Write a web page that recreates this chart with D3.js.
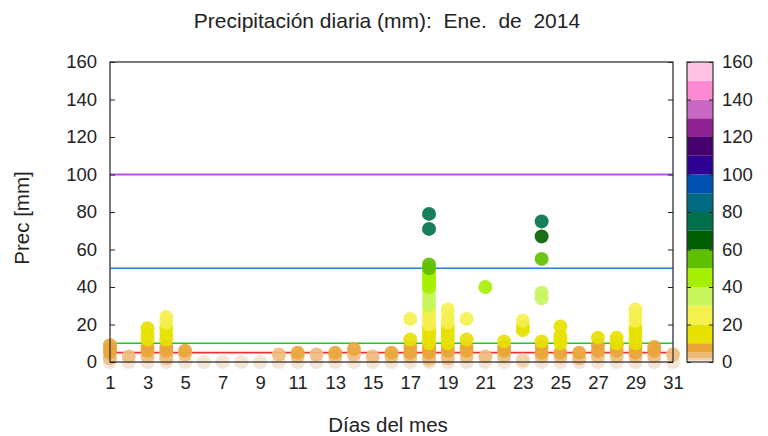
<!DOCTYPE html>
<html><head><meta charset="utf-8">
<script src="https://cdn.jsdelivr.net/npm/d3@7"></script>
<style>body{margin:0;background:#fff}svg{display:block}text{font-family:"Liberation Sans",Arial,sans-serif;fill:#222}.pre{white-space:pre}</style>
</head><body><svg id="c" width="768" height="436"></svg>
<script>
const days = d3.range(1, 32);
const xTicks = [1,3,5,7,9,11,13,15,17,19,21,23,25,27,29,31];
const yTicks = [0,20,40,60,80,100,120,140,160];
const thresholds = [100, 50, 10, 5];
const thresholdColors = ["#c44ee8", "#1f80e6", "#1ec81e", "#e83434"];
// precipitation values (mm) of the stations, one list per day
const dayValues = [
  [0,0,2,5,7,9],
  [0,0,3],
  [0,0,3,6,8,12,15,18],
  [0,0,2,4,6,8,12,15,18,21,24],
  [0,0,4,6],
  [0,0],
  [0,0],
  [0,0],
  [0,0],
  [0,0,4],
  [0,0,3,5],
  [0,0,4],
  [0,0,3,5],
  [0,0,4,7],
  [0,0,3],
  [0,0,3,5],
  [0,0,3,5,8,12,23],
  [0,0,1,2,3,5,6,8,9,10,12,14,16,18,20,22,24,26,28,30,32,35,38,40,42,44,46,48,50,52,71,79],
  [0,0,2,4,6,8,10,12,14,16,18,21,24,28],
  [0,0,3,6,8,12,23],
  [0,0,3,40],
  [0,0,3,6,8,11],
  [0,0,1,17,19,22],
  [0,0,3,5,8,11,34,37,55,67,75],
  [0,0,3,5,10,12,14,19],
  [0,0,2,5],
  [0,0,3,6,9,13],
  [0,0,3,6,9,10,13],
  [0,0,3,5,8,10,13,16,18,22,25,28],
  [0,0,3,6,8],
  [0,0,4]
];
const binEdges = [0,1,2,5,10,20,30,40,50,60,70,80,90,100,110,120,130,140,150,160];
const binColors = ["#f3e2d2","#f2cfa8","#efbb7c","#e9a53a","#e6e100","#f4f04e","#c8f55c","#a4f000","#5ec000","#005e00","#00704a","#006a82","#0052b0","#2c0090","#470070","#8e2292","#c868c2","#ff88d2","#ffc4e4"];

const svg = d3.select("#c");
const x = d3.scaleLinear().domain([1, 31]).range([110, 673]);
const y = d3.scaleLinear().domain([0, 160]).range([362, 62]);
const color = d3.scaleThreshold().domain(binEdges.slice(1, -1)).range(binColors);

// threshold lines
svg.append("g").selectAll("line").data(thresholds).join("line")
  .attr("x1", x(1)).attr("x2", x(31))
  .attr("y1", d => y(d)).attr("y2", d => y(d))
  .attr("stroke", (d, i) => thresholdColors[i]).attr("stroke-width", (d,i)=> i===0?2:1.6);

// dots
const pts = [];
dayValues.forEach((vals, i) => vals.slice().sort((a,b)=>a-b).forEach(v => pts.push({day: days[i], v})));
svg.append("g").selectAll("circle").data(pts).join("circle")
  .attr("cx", d => x(d.day)).attr("cy", d => y(d.v)).attr("r", 7)
  .attr("fill", d => color(d.v)).attr("fill-opacity", d => d.v < 1 ? 0.7 : 0.9);

// frame
svg.append("rect").attr("x", 110).attr("y", 62).attr("width", 563).attr("height", 300)
  .attr("fill", "none").attr("stroke", "#333").attr("stroke-width", 1.3);

// y axis
const yl = svg.append("g").attr("transform", "translate(110,0)")
  .call(d3.axisLeft(y).tickValues(yTicks).tickSize(-5).tickPadding(13));
yl.select(".domain").remove();
yl.selectAll("line").attr("stroke", "#222");
yl.selectAll("text").attr("font-size", 18.5).attr("fill", "#222");
const yr = svg.append("g").attr("transform", "translate(673,0)")
  .call(d3.axisRight(y).tickValues(yTicks).tickSize(-5).tickFormat(""));
yr.select(".domain").remove();
yr.selectAll("line").attr("stroke", "#222");

// x axis
const xa = svg.append("g").attr("transform", "translate(0,362)")
  .call(d3.axisBottom(x).tickValues(xTicks).tickSize(0).tickPadding(14).tickFormat(d3.format("d")));
xa.select(".domain").remove();
xa.selectAll("text").attr("font-size", 18.5).attr("fill", "#222");

// titles
svg.append("text").attr("class","pre").attr("x", 387).attr("y", 28).attr("text-anchor", "middle").attr("font-size", 21)
  .text("Precipitación diaria (mm):  Ene.  de  2014");
svg.append("text").attr("x", 388).attr("y", 432).attr("text-anchor", "middle").attr("font-size", 20.5).text("Días del mes");
svg.append("text").attr("transform", "translate(29,218) rotate(-90)").attr("text-anchor", "middle").attr("font-size", 20.5).text("Prec [mm]");

// colorbar
const cb = svg.append("g");
cb.selectAll("rect").data(binColors).join("rect")
  .attr("x", 687).attr("width", 26)
  .attr("y", (d, i) => y(binEdges[i + 1])).attr("height", (d, i) => y(binEdges[i]) - y(binEdges[i + 1]))
  .attr("fill", d => d);
cb.append("rect").attr("x", 687).attr("y", 62).attr("width", 26).attr("height", 300)
  .attr("fill", "none").attr("stroke", "#333").attr("stroke-width", 1.2);
const cbr = cb.append("g").attr("transform", "translate(713,0)")
  .call(d3.axisRight(y).tickValues(yTicks).tickSize(-4).tickPadding(9));
cbr.select(".domain").remove();
cbr.selectAll("line").attr("stroke", "#222");
cbr.selectAll("text").attr("font-size", 18.5).attr("fill", "#222");
const cbl = cb.append("g").attr("transform", "translate(687,0)")
  .call(d3.axisLeft(y).tickValues(yTicks).tickSize(-4).tickFormat(""));
cbl.select(".domain").remove();
cbl.selectAll("line").attr("stroke", "#222");
</script></body></html>
